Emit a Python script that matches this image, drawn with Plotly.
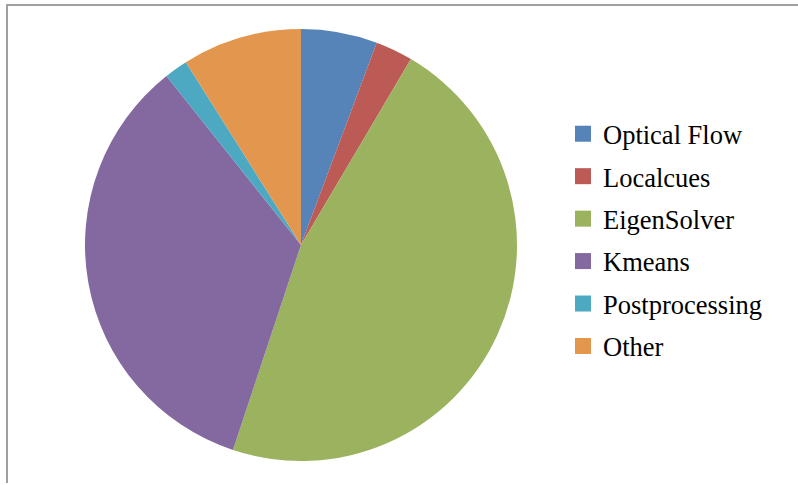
import plotly.graph_objects as go

labels = ["Optical Flow", "Localcues", "EigenSolver", "Kmeans", "Postprocessing", "Other"]
values = [5.7, 2.8, 46.6, 34.2, 1.75, 8.95]
colors = ["#5683B8", "#BC5A55", "#9BB35E", "#8469A0", "#4DA8C1", "#E3974E"]

W, H = 798, 485
fig = go.Figure()
fig.add_trace(go.Pie(
    labels=labels, values=values, sort=False, direction="clockwise", rotation=0,
    marker=dict(colors=colors, line=dict(width=0)),
    textinfo="none", hoverinfo="label+percent", showlegend=False,
    domain=dict(x=[85 / W, 517 / W], y=[(H - 461) / H, (H - 29) / H]),
))
for i, (lab, col) in enumerate(zip(labels, colors)):
    fig.add_trace(go.Scatter(
        x=[None], y=[None], mode="markers", name=lab, legendgroup=f"g{i}",
        marker=dict(symbol="square", size=16, color=col, line=dict(width=0)),
    ))

fig.update_layout(
    width=W, height=H, margin=dict(l=0, r=0, t=0, b=0),
    paper_bgcolor="white", plot_bgcolor="white",
    xaxis=dict(visible=False), yaxis=dict(visible=False),
    legend=dict(
        x=(603 - 40) / W, xanchor="left", y=1 - 110 / H, yanchor="top",
        font=dict(family="Liberation Serif", size=26.5, color="black"),
        tracegroupgap=5, bgcolor="rgba(0,0,0,0)",
    ),
    shapes=[
        dict(type="line", xref="paper", yref="paper", x0=6 / W, x1=1.01, y0=1 - 5 / H, y1=1 - 5 / H,
             line=dict(color="#A0A0A0", width=2)),
        dict(type="line", xref="paper", yref="paper", x0=7 / W, x1=7 / W, y0=1 - 4 / H, y1=1 - 483 / H,
             line=dict(color="#A0A0A0", width=2)),
    ],
)
fig.write_html("out.html")
